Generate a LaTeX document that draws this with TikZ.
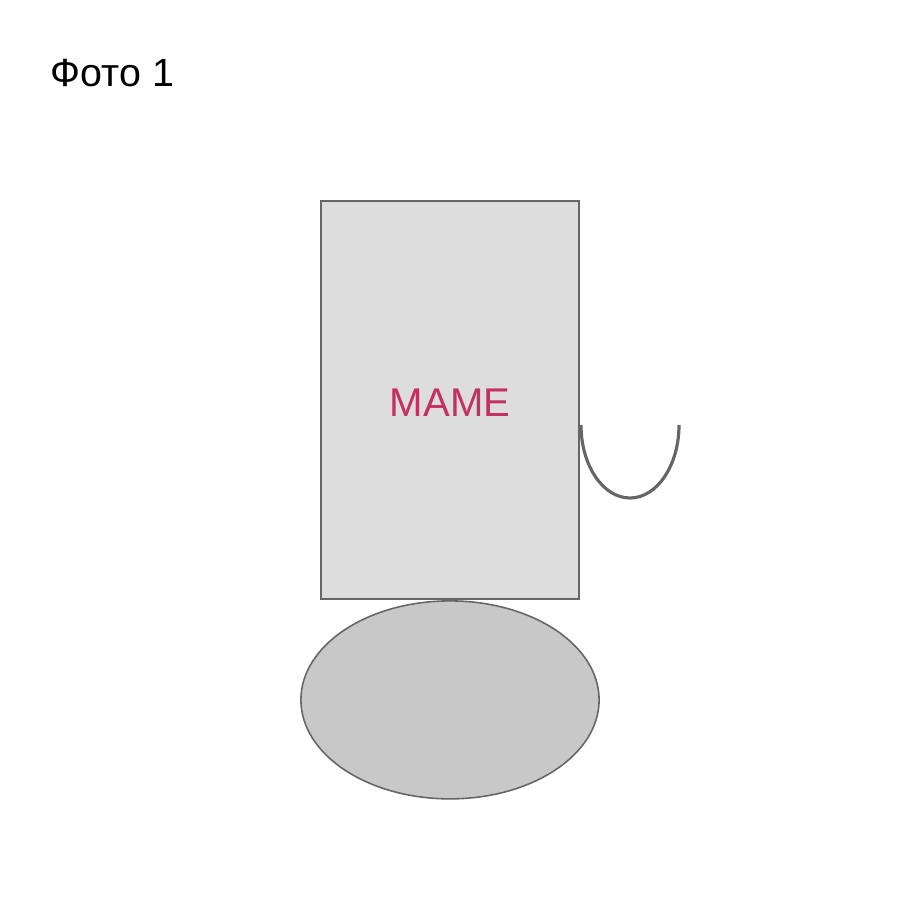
\documentclass[tikz,border=0pt]{standalone}
\usepackage{fontspec}
\setmainfont{Liberation Sans}
\usetikzlibrary{positioning,shapes.geometric}
\tikzset{
  frame/.style={draw=black!60,fill=black!13.5,line width=0.6pt,minimum width=73.4pt,minimum height=113.2pt,inner sep=0pt}, % upper box
  oval/.style={ellipse,draw=black!60,fill=black!21.5,line width=0.45pt,minimum width=84.8pt,minimum height=56.3pt,inner sep=0pt},
  hook/.style={draw=black!60,line width=0.9pt},
  lbl/.style={font=\fontsize{11.4pt}{13pt}\selectfont,text=magentared},
  ttl/.style={font=\fontsize{11.2pt}{13pt}\selectfont,anchor=base west,inner sep=0pt},
}
\definecolor{magentared}{HTML}{C4305F}
\begin{document}
\begin{tikzpicture}[x=0.01cm,y=-0.01cm]
  \useasboundingbox (0,0) rectangle (900,900);
  \node[ttl] (title) at (50,87) {Фото 1};
  \node[frame] (box) at (450,400) {};
  \node[lbl] (word) at (450,403) {MAME};
  \node[oval,below=0pt of box] (base) {};
  % half ellipse on the right
  \coordinate (hs) at (581,425);
  \draw[hook] (hs) arc[start angle=180,end angle=360,x radius=49,y radius=-73];
\end{tikzpicture}
\end{document}
